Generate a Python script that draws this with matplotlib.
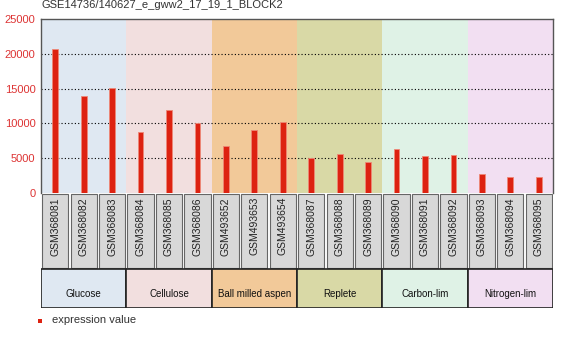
import matplotlib
matplotlib.use("Agg")
import matplotlib.pyplot as plt
from matplotlib.patches import Rectangle

plt.rcParams["font.family"] = ["Liberation Sans", "DejaVu Sans"]

title = "GSE14736/140627_e_gww2_17_19_1_BLOCK2"
samples = ["GSM368081", "GSM368082", "GSM368083", "GSM368084", "GSM368085",
           "GSM368086", "GSM493652", "GSM493653", "GSM493654", "GSM368087",
           "GSM368088", "GSM368089", "GSM368090", "GSM368091", "GSM368092",
           "GSM368093", "GSM368094", "GSM368095"]
values = [20650, 13980, 15040, 8720, 11880, 10010, 6750, 9000, 10200,
          5030, 5650, 4410, 6280, 5360, 5500, 2690, 2340, 2340]
groups = ["Glucose", "Cellulose", "Ball milled aspen", "Replete",
          "Carbon-lim", "Nitrogen-lim"]
group_sizes = [3, 3, 3, 3, 3, 3]
group_colors = ["#dfe8f2", "#f2dfdf", "#f2c999", "#d9d9a6", "#dff2e6", "#f2dff2"]
yticks = [0, 5000, 10000, 15000, 20000, 25000]

W, H = 574, 339
fig = plt.figure(figsize=(W / 100, H / 100), dpi=100)

def fx(px):
    return px / W

def fy(py):
    return 1 - py / H

left, right, top, zero = 41, 553, 19, 193
ax = fig.add_axes([fx(left), fy(zero), fx(right - left), (zero - top) / H])
n = len(samples)
ax.set_xlim(-0.5, n - 0.5)
ax.set_ylim(0, 25000)

# group background bands
start = 0
for size, col in zip(group_sizes, group_colors):
    ax.axvspan(start - 0.5, start + size - 0.5, color=col, zorder=0, lw=0)
    start += size

for y in yticks[1:-1]:
    ax.axhline(y, color="black", lw=0.8, ls=(0, (1, 2)), zorder=1)

x = list(range(n))
ax.bar(x, values, width=0.2, color="#dd2211", edgecolor="#ee8877",
       linewidth=0.6, zorder=2)

ax.set_yticks(yticks)
ax.set_yticklabels([str(v) for v in yticks], color="#dd3333", fontsize=8)
ax.tick_params(axis="y", length=0, pad=4)
ax.set_xticks([])
for s in ax.spines.values():
    s.set_color("#555555")
    s.set_linewidth(1)
ax.spines["bottom"].set_visible(False)

fig.text(fx(41), fy(5), title, fontsize=8, color="#333333",
         ha="left", va="center")

# sample label boxes and group boxes
lab_bottom, grp_bottom = 269, 308
bx = fig.add_axes([fx(left), fy(grp_bottom), fx(right - left),
                   (grp_bottom - zero) / H])
bx.set_xlim(-0.5, n - 0.5)
total = grp_bottom - zero
bx.set_ylim(total, 0)
bx.axis("off")
for i, s in enumerate(samples):
    bx.add_patch(Rectangle((i - 0.5 + 0.04, 0.5), 0.92, lab_bottom - zero - 1.5,
                           facecolor="#d8d8d8", edgecolor="#666666", lw=0.8))
    bx.text(i, 4, s, rotation=90, ha="center", va="top", fontsize=7.5,
            color="#222222")

start = 0
for name, size, col in zip(groups, group_sizes, group_colors):
    bx.add_patch(Rectangle((start - 0.5, lab_bottom - zero), size, grp_bottom - lab_bottom,
                           facecolor=col, edgecolor="#222222", lw=1.2))
    bx.text(start + size / 2 - 0.5, (lab_bottom - zero) + (grp_bottom - lab_bottom) * 0.64,
            name, ha="center", va="center", fontsize=7, color="#111111")
    start += size

# legend
fig.patches.append(Rectangle((fx(38), fy(322.5)), 4 / W, 4 / H,
                             transform=fig.transFigure, facecolor="#dd2211",
                             edgecolor="none"))
fig.text(fx(52), fy(320), "expression value", fontsize=8, color="#333333",
         ha="left", va="center")

fig.savefig("out.png", dpi=100)
